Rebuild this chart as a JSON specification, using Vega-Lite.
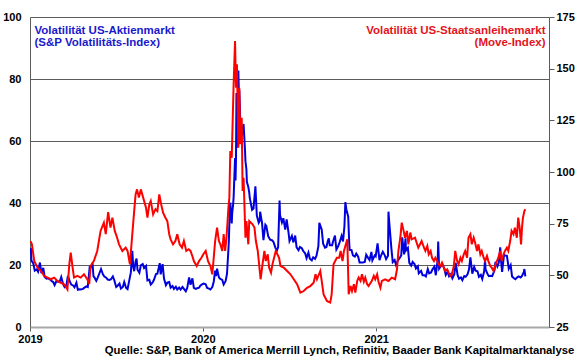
{
  "$schema": "https://vega.github.io/schema/vega-lite/v6.json",
  "width": 519,
  "height": 310,
  "autosize": {"type": "none"},
  "padding": {"left": 30, "top": 17, "right": 31, "bottom": 32},
  "background": "white",
  "config": {
    "view": {"stroke": null},
    "font": "Liberation Sans",
    "axis": {"labelFont": "Liberation Sans", "labelFontWeight": "bold", "labelFontSize": 11, "labelColor": "#000000", "titleFont": "Liberation Sans"}
  },
  "title": {
    "text": "Quelle: S&P, Bank of America Merrill Lynch, Refinitiv, Baader Bank Kapitalmarktanalyse",
    "orient": "bottom",
    "anchor": "end",
    "frame": "bounds",
    "fontSize": 11.3,
    "fontWeight": "bold",
    "color": "#000000",
    "font": "Liberation Sans",
    "offset": 1
  },
  "datasets": {
    "vix": [
      {"date": "2019-01-02", "vix": 23.2}, {"date": "2019-01-03", "vix": 25.5}, {"date": "2019-01-04", "vix": 21.4},
      {"date": "2019-01-08", "vix": 20.5}, {"date": "2019-01-11", "vix": 18.2}, {"date": "2019-01-15", "vix": 18.6},
      {"date": "2019-01-18", "vix": 17.8}, {"date": "2019-01-22", "vix": 20.8}, {"date": "2019-01-25", "vix": 17.4},
      {"date": "2019-01-29", "vix": 19.1}, {"date": "2019-02-01", "vix": 16.1}, {"date": "2019-02-05", "vix": 15.6},
      {"date": "2019-02-08", "vix": 15.7}, {"date": "2019-02-12", "vix": 15.4}, {"date": "2019-02-15", "vix": 14.9},
      {"date": "2019-02-19", "vix": 14.5}, {"date": "2019-02-22", "vix": 13.5}, {"date": "2019-02-26", "vix": 14.9},
      {"date": "2019-03-01", "vix": 14.6}, {"date": "2019-03-05", "vix": 14.7}, {"date": "2019-03-08", "vix": 16.1},
      {"date": "2019-03-12", "vix": 13.8}, {"date": "2019-03-15", "vix": 12.9}, {"date": "2019-03-19", "vix": 13.6},
      {"date": "2019-03-22", "vix": 16.5}, {"date": "2019-03-26", "vix": 14.7}, {"date": "2019-03-29", "vix": 13.7},
      {"date": "2019-04-02", "vix": 13.4}, {"date": "2019-04-05", "vix": 12.8}, {"date": "2019-04-09", "vix": 14.3},
      {"date": "2019-04-12", "vix": 12.0}, {"date": "2019-04-16", "vix": 12.2}, {"date": "2019-04-18", "vix": 12.1},
      {"date": "2019-04-23", "vix": 12.3}, {"date": "2019-04-26", "vix": 12.7}, {"date": "2019-04-30", "vix": 13.1},
      {"date": "2019-05-03", "vix": 12.9}, {"date": "2019-05-07", "vix": 19.3}, {"date": "2019-05-09", "vix": 19.1},
      {"date": "2019-05-13", "vix": 20.6}, {"date": "2019-05-15", "vix": 16.4}, {"date": "2019-05-17", "vix": 16.0},
      {"date": "2019-05-21", "vix": 14.9}, {"date": "2019-05-24", "vix": 15.9}, {"date": "2019-05-28", "vix": 17.5},
      {"date": "2019-05-31", "vix": 18.7}, {"date": "2019-06-04", "vix": 17.0}, {"date": "2019-06-07", "vix": 16.3},
      {"date": "2019-06-11", "vix": 15.9}, {"date": "2019-06-14", "vix": 15.3}, {"date": "2019-06-18", "vix": 15.2},
      {"date": "2019-06-21", "vix": 15.4}, {"date": "2019-06-25", "vix": 16.3}, {"date": "2019-06-28", "vix": 15.1},
      {"date": "2019-07-02", "vix": 12.9}, {"date": "2019-07-05", "vix": 13.3}, {"date": "2019-07-09", "vix": 14.0},
      {"date": "2019-07-12", "vix": 12.4}, {"date": "2019-07-16", "vix": 12.9}, {"date": "2019-07-19", "vix": 14.5},
      {"date": "2019-07-23", "vix": 12.6}, {"date": "2019-07-26", "vix": 12.2}, {"date": "2019-07-31", "vix": 16.1},
      {"date": "2019-08-02", "vix": 17.6}, {"date": "2019-08-05", "vix": 24.6}, {"date": "2019-08-07", "vix": 19.5},
      {"date": "2019-08-09", "vix": 18.0}, {"date": "2019-08-12", "vix": 21.1}, {"date": "2019-08-14", "vix": 22.1},
      {"date": "2019-08-16", "vix": 18.5}, {"date": "2019-08-20", "vix": 17.5}, {"date": "2019-08-23", "vix": 19.9},
      {"date": "2019-08-27", "vix": 20.3}, {"date": "2019-08-30", "vix": 19.0}, {"date": "2019-09-03", "vix": 19.7},
      {"date": "2019-09-06", "vix": 15.0}, {"date": "2019-09-10", "vix": 15.2}, {"date": "2019-09-13", "vix": 13.7},
      {"date": "2019-09-17", "vix": 14.4}, {"date": "2019-09-20", "vix": 15.3}, {"date": "2019-09-24", "vix": 17.1},
      {"date": "2019-09-27", "vix": 17.2}, {"date": "2019-10-02", "vix": 20.6}, {"date": "2019-10-04", "vix": 17.0},
      {"date": "2019-10-08", "vix": 20.3}, {"date": "2019-10-11", "vix": 15.6}, {"date": "2019-10-15", "vix": 13.5},
      {"date": "2019-10-18", "vix": 14.3}, {"date": "2019-10-22", "vix": 14.5}, {"date": "2019-10-25", "vix": 12.7},
      {"date": "2019-10-29", "vix": 13.2}, {"date": "2019-11-01", "vix": 12.3}, {"date": "2019-11-05", "vix": 13.0},
      {"date": "2019-11-08", "vix": 12.1}, {"date": "2019-11-12", "vix": 12.7}, {"date": "2019-11-15", "vix": 12.1},
      {"date": "2019-11-19", "vix": 12.9}, {"date": "2019-11-22", "vix": 12.3}, {"date": "2019-11-26", "vix": 11.5},
      {"date": "2019-11-29", "vix": 12.6}, {"date": "2019-12-03", "vix": 16.0}, {"date": "2019-12-06", "vix": 13.6},
      {"date": "2019-12-10", "vix": 15.7}, {"date": "2019-12-13", "vix": 12.6}, {"date": "2019-12-17", "vix": 12.3},
      {"date": "2019-12-20", "vix": 12.5}, {"date": "2019-12-24", "vix": 12.7}, {"date": "2019-12-27", "vix": 13.4},
      {"date": "2019-12-31", "vix": 13.8}, {"date": "2020-01-03", "vix": 14.0}, {"date": "2020-01-07", "vix": 13.8},
      {"date": "2020-01-10", "vix": 12.6}, {"date": "2020-01-14", "vix": 12.4}, {"date": "2020-01-17", "vix": 12.1},
      {"date": "2020-01-21", "vix": 12.9}, {"date": "2020-01-24", "vix": 14.6}, {"date": "2020-01-27", "vix": 18.2},
      {"date": "2020-01-29", "vix": 16.4}, {"date": "2020-01-31", "vix": 18.8}, {"date": "2020-02-04", "vix": 16.0},
      {"date": "2020-02-07", "vix": 15.5}, {"date": "2020-02-11", "vix": 15.2}, {"date": "2020-02-14", "vix": 13.7},
      {"date": "2020-02-18", "vix": 14.8}, {"date": "2020-02-21", "vix": 17.1}, {"date": "2020-02-24", "vix": 25.0},
      {"date": "2020-02-25", "vix": 27.9}, {"date": "2020-02-27", "vix": 39.2}, {"date": "2020-02-28", "vix": 40.1},
      {"date": "2020-03-02", "vix": 33.4}, {"date": "2020-03-03", "vix": 36.8}, {"date": "2020-03-05", "vix": 39.6},
      {"date": "2020-03-06", "vix": 41.9}, {"date": "2020-03-09", "vix": 54.5}, {"date": "2020-03-10", "vix": 47.3},
      {"date": "2020-03-11", "vix": 53.9}, {"date": "2020-03-12", "vix": 75.5}, {"date": "2020-03-13", "vix": 57.8},
      {"date": "2020-03-16", "vix": 82.7}, {"date": "2020-03-17", "vix": 75.9}, {"date": "2020-03-18", "vix": 76.5},
      {"date": "2020-03-19", "vix": 72.0}, {"date": "2020-03-20", "vix": 66.0}, {"date": "2020-03-23", "vix": 61.6},
      {"date": "2020-03-25", "vix": 63.9}, {"date": "2020-03-27", "vix": 65.5}, {"date": "2020-03-30", "vix": 57.1},
      {"date": "2020-03-31", "vix": 53.5}, {"date": "2020-04-02", "vix": 50.9}, {"date": "2020-04-03", "vix": 46.8},
      {"date": "2020-04-06", "vix": 45.2}, {"date": "2020-04-08", "vix": 43.4}, {"date": "2020-04-09", "vix": 41.7},
      {"date": "2020-04-14", "vix": 37.8}, {"date": "2020-04-17", "vix": 38.2}, {"date": "2020-04-21", "vix": 45.4},
      {"date": "2020-04-24", "vix": 35.9}, {"date": "2020-04-28", "vix": 33.6}, {"date": "2020-04-30", "vix": 34.2},
      {"date": "2020-05-01", "vix": 37.2}, {"date": "2020-05-05", "vix": 33.6}, {"date": "2020-05-08", "vix": 28.0},
      {"date": "2020-05-12", "vix": 33.0}, {"date": "2020-05-14", "vix": 32.6}, {"date": "2020-05-18", "vix": 29.3},
      {"date": "2020-05-22", "vix": 28.2}, {"date": "2020-05-26", "vix": 28.0}, {"date": "2020-05-29", "vix": 27.5},
      {"date": "2020-06-02", "vix": 25.7}, {"date": "2020-06-05", "vix": 24.5}, {"date": "2020-06-08", "vix": 25.8},
      {"date": "2020-06-11", "vix": 40.8}, {"date": "2020-06-12", "vix": 36.1}, {"date": "2020-06-16", "vix": 33.7},
      {"date": "2020-06-19", "vix": 35.1}, {"date": "2020-06-23", "vix": 31.4}, {"date": "2020-06-26", "vix": 34.7},
      {"date": "2020-06-30", "vix": 30.4}, {"date": "2020-07-02", "vix": 27.7}, {"date": "2020-07-07", "vix": 29.4},
      {"date": "2020-07-10", "vix": 27.3}, {"date": "2020-07-14", "vix": 29.5}, {"date": "2020-07-17", "vix": 25.7},
      {"date": "2020-07-21", "vix": 24.8}, {"date": "2020-07-24", "vix": 25.8}, {"date": "2020-07-28", "vix": 25.4},
      {"date": "2020-07-31", "vix": 24.5}, {"date": "2020-08-04", "vix": 23.8}, {"date": "2020-08-07", "vix": 22.2},
      {"date": "2020-08-11", "vix": 24.0}, {"date": "2020-08-14", "vix": 22.0}, {"date": "2020-08-18", "vix": 21.5},
      {"date": "2020-08-21", "vix": 22.5}, {"date": "2020-08-25", "vix": 22.0}, {"date": "2020-08-28", "vix": 23.0},
      {"date": "2020-09-01", "vix": 26.1}, {"date": "2020-09-03", "vix": 33.6}, {"date": "2020-09-08", "vix": 31.5},
      {"date": "2020-09-11", "vix": 26.9}, {"date": "2020-09-15", "vix": 25.6}, {"date": "2020-09-18", "vix": 25.8},
      {"date": "2020-09-21", "vix": 27.8}, {"date": "2020-09-23", "vix": 28.6}, {"date": "2020-09-25", "vix": 26.4},
      {"date": "2020-09-30", "vix": 26.4}, {"date": "2020-10-02", "vix": 27.6}, {"date": "2020-10-06", "vix": 29.5},
      {"date": "2020-10-09", "vix": 25.0}, {"date": "2020-10-13", "vix": 26.1}, {"date": "2020-10-16", "vix": 27.4},
      {"date": "2020-10-20", "vix": 29.4}, {"date": "2020-10-23", "vix": 27.6}, {"date": "2020-10-26", "vix": 32.5},
      {"date": "2020-10-28", "vix": 40.3}, {"date": "2020-10-30", "vix": 38.0}, {"date": "2020-11-03", "vix": 35.6},
      {"date": "2020-11-05", "vix": 27.6}, {"date": "2020-11-06", "vix": 24.9}, {"date": "2020-11-10", "vix": 24.8},
      {"date": "2020-11-13", "vix": 23.1}, {"date": "2020-11-17", "vix": 22.7}, {"date": "2020-11-20", "vix": 23.7},
      {"date": "2020-11-24", "vix": 22.7}, {"date": "2020-11-27", "vix": 20.8}, {"date": "2020-12-01", "vix": 20.8},
      {"date": "2020-12-04", "vix": 20.8}, {"date": "2020-12-08", "vix": 21.0}, {"date": "2020-12-11", "vix": 23.3},
      {"date": "2020-12-15", "vix": 22.3}, {"date": "2020-12-18", "vix": 21.6}, {"date": "2020-12-22", "vix": 24.2},
      {"date": "2020-12-24", "vix": 21.5}, {"date": "2020-12-29", "vix": 23.1}, {"date": "2020-12-31", "vix": 22.8},
      {"date": "2021-01-04", "vix": 27.0}, {"date": "2021-01-08", "vix": 21.6}, {"date": "2021-01-12", "vix": 23.3},
      {"date": "2021-01-15", "vix": 24.3}, {"date": "2021-01-19", "vix": 23.2}, {"date": "2021-01-22", "vix": 21.9},
      {"date": "2021-01-26", "vix": 23.0}, {"date": "2021-01-27", "vix": 37.2}, {"date": "2021-01-29", "vix": 33.1},
      {"date": "2021-02-02", "vix": 25.6}, {"date": "2021-02-05", "vix": 20.9}, {"date": "2021-02-09", "vix": 21.6},
      {"date": "2021-02-12", "vix": 20.0}, {"date": "2021-02-16", "vix": 21.5}, {"date": "2021-02-19", "vix": 22.1},
      {"date": "2021-02-23", "vix": 23.1}, {"date": "2021-02-25", "vix": 28.9}, {"date": "2021-03-01", "vix": 23.4},
      {"date": "2021-03-04", "vix": 28.6}, {"date": "2021-03-05", "vix": 24.7}, {"date": "2021-03-09", "vix": 25.5},
      {"date": "2021-03-12", "vix": 20.7}, {"date": "2021-03-16", "vix": 19.8}, {"date": "2021-03-19", "vix": 21.0},
      {"date": "2021-03-23", "vix": 20.3}, {"date": "2021-03-26", "vix": 18.9}, {"date": "2021-03-30", "vix": 19.6},
      {"date": "2021-04-01", "vix": 17.3}, {"date": "2021-04-06", "vix": 18.1}, {"date": "2021-04-09", "vix": 16.7},
      {"date": "2021-04-13", "vix": 16.7}, {"date": "2021-04-16", "vix": 16.3}, {"date": "2021-04-20", "vix": 18.7},
      {"date": "2021-04-23", "vix": 17.3}, {"date": "2021-04-27", "vix": 17.6}, {"date": "2021-04-30", "vix": 18.6},
      {"date": "2021-05-04", "vix": 19.5}, {"date": "2021-05-07", "vix": 16.7}, {"date": "2021-05-11", "vix": 21.8},
      {"date": "2021-05-12", "vix": 27.6}, {"date": "2021-05-14", "vix": 18.8}, {"date": "2021-05-18", "vix": 19.7},
      {"date": "2021-05-21", "vix": 20.2}, {"date": "2021-05-25", "vix": 18.8}, {"date": "2021-05-28", "vix": 16.8},
      {"date": "2021-06-01", "vix": 17.9}, {"date": "2021-06-04", "vix": 16.4}, {"date": "2021-06-08", "vix": 17.1},
      {"date": "2021-06-11", "vix": 15.7}, {"date": "2021-06-15", "vix": 17.0}, {"date": "2021-06-18", "vix": 20.7},
      {"date": "2021-06-22", "vix": 16.7}, {"date": "2021-06-25", "vix": 15.6}, {"date": "2021-06-29", "vix": 16.0},
      {"date": "2021-07-02", "vix": 15.1}, {"date": "2021-07-06", "vix": 16.4}, {"date": "2021-07-09", "vix": 16.2},
      {"date": "2021-07-13", "vix": 17.0}, {"date": "2021-07-16", "vix": 18.5}, {"date": "2021-07-19", "vix": 22.5},
      {"date": "2021-07-23", "vix": 17.2}, {"date": "2021-07-27", "vix": 19.4}, {"date": "2021-07-30", "vix": 18.2},
      {"date": "2021-08-03", "vix": 18.0}, {"date": "2021-08-06", "vix": 16.2}, {"date": "2021-08-10", "vix": 16.8},
      {"date": "2021-08-13", "vix": 15.5}, {"date": "2021-08-17", "vix": 17.9}, {"date": "2021-08-19", "vix": 21.7},
      {"date": "2021-08-20", "vix": 18.6}, {"date": "2021-08-24", "vix": 17.2}, {"date": "2021-08-27", "vix": 16.4},
      {"date": "2021-08-31", "vix": 16.5}, {"date": "2021-09-03", "vix": 16.4}, {"date": "2021-09-08", "vix": 18.3},
      {"date": "2021-09-10", "vix": 21.0}, {"date": "2021-09-14", "vix": 19.5}, {"date": "2021-09-17", "vix": 20.8},
      {"date": "2021-09-20", "vix": 25.7}, {"date": "2021-09-22", "vix": 20.9}, {"date": "2021-09-24", "vix": 17.8},
      {"date": "2021-09-28", "vix": 23.3}, {"date": "2021-09-30", "vix": 23.1}, {"date": "2021-10-04", "vix": 23.0},
      {"date": "2021-10-06", "vix": 21.0}, {"date": "2021-10-08", "vix": 18.8}, {"date": "2021-10-12", "vix": 20.0},
      {"date": "2021-10-15", "vix": 16.3}, {"date": "2021-10-19", "vix": 15.7}, {"date": "2021-10-22", "vix": 15.4},
      {"date": "2021-10-26", "vix": 16.0}, {"date": "2021-10-29", "vix": 16.3}, {"date": "2021-11-02", "vix": 16.0},
      {"date": "2021-11-05", "vix": 16.5}, {"date": "2021-11-09", "vix": 17.8}, {"date": "2021-11-10", "vix": 18.7},
      {"date": "2021-11-12", "vix": 16.3}
    ],
    "move": [
      {"date": "2019-01-02", "move": 66.6}, {"date": "2019-01-05", "move": 65.0}, {"date": "2019-01-10", "move": 57.0},
      {"date": "2019-01-17", "move": 53.7}, {"date": "2019-01-24", "move": 52.1}, {"date": "2019-01-31", "move": 49.7},
      {"date": "2019-02-07", "move": 48.9}, {"date": "2019-02-14", "move": 48.1}, {"date": "2019-02-21", "move": 48.9},
      {"date": "2019-02-28", "move": 47.3}, {"date": "2019-03-07", "move": 46.4}, {"date": "2019-03-14", "move": 45.7},
      {"date": "2019-03-21", "move": 43.2}, {"date": "2019-03-25", "move": 55.3}, {"date": "2019-03-28", "move": 61.0},
      {"date": "2019-04-01", "move": 53.7}, {"date": "2019-04-04", "move": 48.9}, {"date": "2019-04-11", "move": 49.7},
      {"date": "2019-04-18", "move": 48.9}, {"date": "2019-04-25", "move": 50.5}, {"date": "2019-05-02", "move": 48.1},
      {"date": "2019-05-06", "move": 45.7}, {"date": "2019-05-09", "move": 54.5}, {"date": "2019-05-16", "move": 57.0},
      {"date": "2019-05-23", "move": 61.8}, {"date": "2019-05-30", "move": 71.5}, {"date": "2019-06-06", "move": 75.5},
      {"date": "2019-06-10", "move": 69.9}, {"date": "2019-06-15", "move": 80.6}, {"date": "2019-06-20", "move": 73.1},
      {"date": "2019-06-24", "move": 77.9}, {"date": "2019-06-29", "move": 71.5}, {"date": "2019-07-04", "move": 68.2},
      {"date": "2019-07-08", "move": 65.0}, {"date": "2019-07-15", "move": 61.8}, {"date": "2019-07-22", "move": 63.4},
      {"date": "2019-07-26", "move": 61.8}, {"date": "2019-07-31", "move": 55.3}, {"date": "2019-08-05", "move": 69.9},
      {"date": "2019-08-09", "move": 81.1}, {"date": "2019-08-12", "move": 89.2}, {"date": "2019-08-15", "move": 91.6},
      {"date": "2019-08-19", "move": 87.6}, {"date": "2019-08-23", "move": 91.6}, {"date": "2019-08-28", "move": 87.6},
      {"date": "2019-09-03", "move": 82.7}, {"date": "2019-09-06", "move": 77.9}, {"date": "2019-09-10", "move": 84.4},
      {"date": "2019-09-13", "move": 86.0}, {"date": "2019-09-18", "move": 79.5}, {"date": "2019-09-23", "move": 82.0},
      {"date": "2019-09-27", "move": 81.1}, {"date": "2019-10-01", "move": 89.2}, {"date": "2019-10-05", "move": 84.4},
      {"date": "2019-10-09", "move": 80.3}, {"date": "2019-10-14", "move": 77.9}, {"date": "2019-10-18", "move": 76.3},
      {"date": "2019-10-22", "move": 69.9}, {"date": "2019-10-25", "move": 67.4}, {"date": "2019-10-30", "move": 65.0},
      {"date": "2019-11-04", "move": 66.6}, {"date": "2019-11-08", "move": 69.9}, {"date": "2019-11-13", "move": 65.0},
      {"date": "2019-11-18", "move": 63.4}, {"date": "2019-11-22", "move": 66.6}, {"date": "2019-11-27", "move": 61.8},
      {"date": "2019-12-02", "move": 62.6}, {"date": "2019-12-06", "move": 61.8}, {"date": "2019-12-11", "move": 58.5},
      {"date": "2019-12-13", "move": 56.9}, {"date": "2019-12-19", "move": 54.5}, {"date": "2019-12-24", "move": 56.9},
      {"date": "2019-12-29", "move": 58.5}, {"date": "2020-01-02", "move": 60.2}, {"date": "2020-01-07", "move": 61.8},
      {"date": "2020-01-12", "move": 56.9}, {"date": "2020-01-17", "move": 54.5}, {"date": "2020-01-21", "move": 50.5},
      {"date": "2020-01-27", "move": 66.6}, {"date": "2020-01-31", "move": 73.1}, {"date": "2020-02-04", "move": 66.6},
      {"date": "2020-02-07", "move": 65.0}, {"date": "2020-02-11", "move": 61.8}, {"date": "2020-02-14", "move": 69.9},
      {"date": "2020-02-17", "move": 61.8}, {"date": "2020-02-20", "move": 68.2}, {"date": "2020-02-24", "move": 82.7},
      {"date": "2020-02-26", "move": 87.6}, {"date": "2020-02-28", "move": 110.2}, {"date": "2020-03-02", "move": 106.9},
      {"date": "2020-03-04", "move": 124.7}, {"date": "2020-03-06", "move": 142.4}, {"date": "2020-03-09", "move": 163.4},
      {"date": "2020-03-11", "move": 140.8}, {"date": "2020-03-13", "move": 152.1}, {"date": "2020-03-16", "move": 111.8},
      {"date": "2020-03-18", "move": 140.8}, {"date": "2020-03-20", "move": 113.4}, {"date": "2020-03-23", "move": 126.3},
      {"date": "2020-03-25", "move": 90.8}, {"date": "2020-03-27", "move": 97.2}, {"date": "2020-03-31", "move": 68.2},
      {"date": "2020-04-02", "move": 76.3}, {"date": "2020-04-06", "move": 65.0}, {"date": "2020-04-08", "move": 76.3},
      {"date": "2020-04-15", "move": 74.7}, {"date": "2020-04-19", "move": 73.1}, {"date": "2020-04-22", "move": 66.6},
      {"date": "2020-04-26", "move": 61.8}, {"date": "2020-05-02", "move": 48.1}, {"date": "2020-05-06", "move": 55.3},
      {"date": "2020-05-10", "move": 61.8}, {"date": "2020-05-13", "move": 56.9}, {"date": "2020-05-17", "move": 60.2},
      {"date": "2020-05-20", "move": 53.7}, {"date": "2020-05-24", "move": 51.3}, {"date": "2020-05-27", "move": 55.3},
      {"date": "2020-06-03", "move": 61.8}, {"date": "2020-06-10", "move": 58.5}, {"date": "2020-06-13", "move": 54.5},
      {"date": "2020-06-20", "move": 53.7}, {"date": "2020-06-27", "move": 52.1}, {"date": "2020-07-04", "move": 50.5},
      {"date": "2020-07-11", "move": 48.1}, {"date": "2020-07-18", "move": 45.7}, {"date": "2020-07-25", "move": 41.6},
      {"date": "2020-08-01", "move": 42.4}, {"date": "2020-08-08", "move": 44.0}, {"date": "2020-08-15", "move": 44.8},
      {"date": "2020-08-22", "move": 46.4}, {"date": "2020-08-26", "move": 50.5}, {"date": "2020-08-29", "move": 48.1},
      {"date": "2020-09-05", "move": 52.1}, {"date": "2020-09-08", "move": 47.3}, {"date": "2020-09-12", "move": 40.8},
      {"date": "2020-09-19", "move": 37.6}, {"date": "2020-09-26", "move": 36.8}, {"date": "2020-09-29", "move": 40.8},
      {"date": "2020-10-03", "move": 55.3}, {"date": "2020-10-10", "move": 58.5}, {"date": "2020-10-15", "move": 58.5},
      {"date": "2020-10-18", "move": 61.8}, {"date": "2020-10-22", "move": 56.9}, {"date": "2020-10-25", "move": 61.8},
      {"date": "2020-10-29", "move": 65.0}, {"date": "2020-11-01", "move": 67.4}, {"date": "2020-11-04", "move": 40.8},
      {"date": "2020-11-08", "move": 44.8}, {"date": "2020-11-11", "move": 42.4}, {"date": "2020-11-15", "move": 45.7},
      {"date": "2020-11-18", "move": 41.6}, {"date": "2020-11-22", "move": 47.3}, {"date": "2020-11-25", "move": 48.9},
      {"date": "2020-11-29", "move": 47.3}, {"date": "2020-12-02", "move": 50.5}, {"date": "2020-12-06", "move": 46.9},
      {"date": "2020-12-09", "move": 48.9}, {"date": "2020-12-13", "move": 45.7}, {"date": "2020-12-16", "move": 44.8},
      {"date": "2020-12-23", "move": 47.3}, {"date": "2020-12-27", "move": 49.7}, {"date": "2020-12-30", "move": 48.1},
      {"date": "2021-01-03", "move": 50.5}, {"date": "2021-01-06", "move": 46.9}, {"date": "2021-01-10", "move": 44.0},
      {"date": "2021-01-13", "move": 47.3}, {"date": "2021-01-20", "move": 48.1}, {"date": "2021-01-27", "move": 47.3},
      {"date": "2021-02-03", "move": 48.9}, {"date": "2021-02-10", "move": 48.1}, {"date": "2021-02-14", "move": 52.9},
      {"date": "2021-02-17", "move": 61.8}, {"date": "2021-02-21", "move": 68.2}, {"date": "2021-02-24", "move": 75.5},
      {"date": "2021-02-28", "move": 71.5}, {"date": "2021-03-03", "move": 68.2}, {"date": "2021-03-07", "move": 71.5},
      {"date": "2021-03-10", "move": 65.0}, {"date": "2021-03-14", "move": 70.7}, {"date": "2021-03-17", "move": 67.4},
      {"date": "2021-03-24", "move": 68.2}, {"date": "2021-03-31", "move": 63.4}, {"date": "2021-04-07", "move": 66.6},
      {"date": "2021-04-12", "move": 63.4}, {"date": "2021-04-15", "move": 61.8}, {"date": "2021-04-19", "move": 64.2},
      {"date": "2021-04-22", "move": 60.2}, {"date": "2021-04-26", "move": 61.8}, {"date": "2021-04-29", "move": 58.5},
      {"date": "2021-05-03", "move": 56.9}, {"date": "2021-05-06", "move": 58.5}, {"date": "2021-05-10", "move": 56.9},
      {"date": "2021-05-13", "move": 55.3}, {"date": "2021-05-17", "move": 54.5}, {"date": "2021-05-20", "move": 56.1},
      {"date": "2021-05-24", "move": 53.7}, {"date": "2021-05-27", "move": 52.1}, {"date": "2021-05-31", "move": 52.9},
      {"date": "2021-06-03", "move": 51.3}, {"date": "2021-06-07", "move": 49.7}, {"date": "2021-06-10", "move": 50.5},
      {"date": "2021-06-14", "move": 54.5}, {"date": "2021-06-17", "move": 61.8}, {"date": "2021-06-21", "move": 56.9},
      {"date": "2021-06-24", "move": 55.3}, {"date": "2021-06-28", "move": 58.5}, {"date": "2021-07-01", "move": 56.9},
      {"date": "2021-07-05", "move": 60.2}, {"date": "2021-07-08", "move": 61.8}, {"date": "2021-07-12", "move": 58.5},
      {"date": "2021-07-15", "move": 68.2}, {"date": "2021-07-19", "move": 69.9}, {"date": "2021-07-22", "move": 65.0},
      {"date": "2021-07-26", "move": 68.2}, {"date": "2021-07-29", "move": 65.8}, {"date": "2021-08-02", "move": 61.8},
      {"date": "2021-08-05", "move": 65.0}, {"date": "2021-08-09", "move": 60.2}, {"date": "2021-08-12", "move": 61.8},
      {"date": "2021-08-16", "move": 58.5}, {"date": "2021-08-19", "move": 56.9}, {"date": "2021-08-23", "move": 59.4},
      {"date": "2021-08-26", "move": 56.9}, {"date": "2021-08-30", "move": 54.5}, {"date": "2021-09-02", "move": 53.7},
      {"date": "2021-09-06", "move": 52.1}, {"date": "2021-09-09", "move": 54.5}, {"date": "2021-09-13", "move": 56.9},
      {"date": "2021-09-16", "move": 58.5}, {"date": "2021-09-20", "move": 61.8}, {"date": "2021-09-23", "move": 56.9},
      {"date": "2021-09-27", "move": 60.2}, {"date": "2021-09-30", "move": 61.8}, {"date": "2021-10-04", "move": 63.4},
      {"date": "2021-10-07", "move": 61.8}, {"date": "2021-10-11", "move": 66.6}, {"date": "2021-10-14", "move": 71.5},
      {"date": "2021-10-18", "move": 69.9}, {"date": "2021-10-21", "move": 73.1}, {"date": "2021-10-25", "move": 68.2},
      {"date": "2021-10-28", "move": 77.9}, {"date": "2021-10-31", "move": 73.1}, {"date": "2021-11-03", "move": 65.0},
      {"date": "2021-11-05", "move": 73.1}, {"date": "2021-11-07", "move": 77.9}, {"date": "2021-11-10", "move": 81.1},
      {"date": "2021-11-12", "move": 82.0}
    ]
  },
  "layer": [
    {
      "data": {"name": "vix"},
      "mark": {"type": "line", "color": "#0000dd", "strokeWidth": 2, "clip": true},
      "encoding": {
        "x": {
          "field": "date", "type": "temporal",
          "scale": {"domain": [{"year": 2019, "month": 1, "date": 1}, {"year": 2022, "month": 1, "date": 1}]},
          "axis": {
            "title": null, "values": [{"year": 2019, "month": 1, "date": 1}, {"year": 2020, "month": 1, "date": 1}, {"year": 2021, "month": 1, "date": 1}],
            "format": "%Y", "grid": false, "tickSize": 4, "tickColor": "#606060", "domainColor": "#a8a8a8", "domainWidth": 2,
            "labelPadding": 2, "labelFontSize": 11, "labelFlush": false, "labelOverlap": false
          }
        },
        "y": {
          "field": "vix", "type": "quantitative",
          "scale": {"domain": [0, 100], "nice": false, "zero": false},
          "axis": {
            "orient": "left", "values": [0, 20, 40, 60, 80, 100], "grid": true, "gridColor": "#5c5c5c", "gridWidth": 1,
            "tickSize": 0, "labelPadding": 9, "domainColor": "#5c5c5c", "labelFontSize": 11,
            "title": ["Volatilität US-Aktienmarkt", "(S&P Volatilitäts-Index)"],
            "titleColor": "#1a1acc", "titleFontSize": 11.5, "titleFontWeight": "bold", "titleAngle": 0,
            "titleAlign": "left", "titleBaseline": "alphabetic", "titleX": 4, "titleY": 16, "titleLineHeight": 12.5
          }
        }
      }
    },
    {
      "data": {"name": "move"},
      "mark": {"type": "line", "color": "#ff0000", "strokeWidth": 2, "clip": true},
      "encoding": {
        "x": {"field": "date", "type": "temporal"},
        "y": {
          "field": "move", "type": "quantitative",
          "scale": {"domain": [25, 175], "nice": false, "zero": false},
          "axis": {
            "orient": "right", "values": [25, 50, 75, 100, 125, 150, 175], "grid": false,
            "tickSize": 5, "tickColor": "#5c5c5c", "labelPadding": 2, "domainColor": "#5c5c5c", "labelFontSize": 11,
            "title": ["Volatilität US-Staatsanleihemarkt", "(Move-Index)"],
            "titleColor": "#e3141b", "titleFontSize": 11.5, "titleFontWeight": "bold", "titleAngle": 0,
            "titleAlign": "right", "titleBaseline": "alphabetic", "titleX": -4, "titleY": 16, "titleLineHeight": 12.5
          }
        }
      }
    }
  ],
  "resolve": {"scale": {"y": "independent"}}
}
